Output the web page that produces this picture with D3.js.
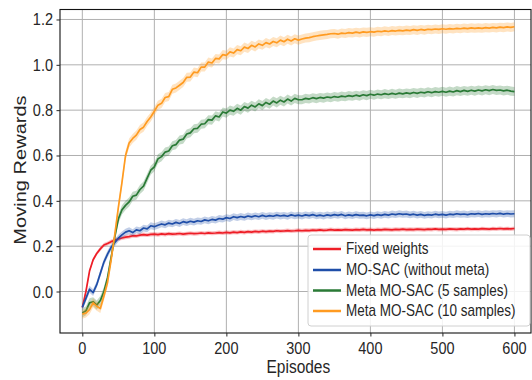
<!DOCTYPE html>
<html>
<head>
<meta charset="utf-8">
<script src="https://cdn.jsdelivr.net/npm/d3@7"></script>
<style>
  body { margin: 0; background: #fff; }
  text { font-family: 'Liberation Sans', Arial, sans-serif; fill: #262626; }
</style>
</head>
<body>
<div id="chart"></div>
<script>
// ----------- DATA ------------
const seriesNames = [
  'Fixed weights',
  'MO-SAC (without meta)',
  'Meta MO-SAC (5 samples)',
  'Meta MO-SAC (10 samples)',
];
const seriesColors = ['#ee1d26', '#1f4ea8', '#2a7a36', '#ff9b21'];
const bandSpread = [0.009, 0.015, 0.02, 0.02];

// one value every 5 episodes, 0..600
const episodes = d3.range(0, 601, 5);

const fixedWeights = [
  -0.07, 0.0, 0.09, 0.14, 0.168, 0.188, 0.205, 0.212, 0.22, 0.226, 0.232,
  0.236, 0.24, 0.242, 0.246, 0.245, 0.249, 0.251, 0.249, 0.252, 0.253,
  0.251, 0.254, 0.252, 0.255, 0.253, 0.254, 0.256, 0.253, 0.255, 0.257,
  0.255, 0.256, 0.258, 0.256, 0.259, 0.257, 0.258, 0.26, 0.258, 0.261,
  0.259, 0.262, 0.26, 0.263, 0.261, 0.264, 0.262, 0.265, 0.263, 0.266,
  0.264, 0.266, 0.265, 0.268, 0.266, 0.267, 0.269, 0.267, 0.268, 0.27,
  0.268, 0.27, 0.269, 0.271, 0.27, 0.272, 0.27, 0.271, 0.273, 0.271,
  0.272, 0.271, 0.273, 0.272, 0.271, 0.273, 0.272, 0.274, 0.272, 0.273,
  0.271, 0.273, 0.272, 0.274, 0.273, 0.272, 0.274, 0.273, 0.275, 0.273,
  0.274, 0.273, 0.275, 0.274, 0.273, 0.275, 0.274, 0.276, 0.274, 0.275,
  0.274, 0.276, 0.275, 0.274, 0.276, 0.275, 0.277, 0.275, 0.276, 0.275,
  0.277, 0.276, 0.275, 0.277, 0.276, 0.278, 0.276, 0.277, 0.276, 0.278,
];

const moSac = [
  -0.07, -0.03, 0.01, -0.005, 0.03, 0.08, 0.13, 0.165, 0.195, 0.215, 0.235,
  0.25, 0.262, 0.268, 0.26, 0.272, 0.268, 0.28, 0.276, 0.29, 0.286,
  0.292, 0.298, 0.294, 0.302, 0.298, 0.305, 0.3, 0.308, 0.304, 0.31,
  0.306, 0.312, 0.309, 0.316, 0.312, 0.318, 0.315, 0.322, 0.319, 0.326,
  0.322, 0.33, 0.326, 0.331, 0.327, 0.333, 0.329, 0.334, 0.33, 0.336,
  0.331, 0.335, 0.332, 0.337, 0.333, 0.336, 0.332, 0.338, 0.334, 0.337,
  0.333, 0.338, 0.335, 0.339, 0.334, 0.337, 0.333, 0.338, 0.335, 0.339,
  0.336, 0.34, 0.334, 0.338, 0.335, 0.339, 0.336, 0.337, 0.334, 0.338,
  0.335, 0.339, 0.336, 0.34, 0.337, 0.342, 0.339, 0.343, 0.34, 0.342,
  0.338, 0.341, 0.337, 0.34, 0.336, 0.339, 0.337, 0.341, 0.338, 0.34,
  0.337, 0.341, 0.339, 0.343, 0.34, 0.342, 0.339, 0.343, 0.341, 0.344,
  0.34, 0.343, 0.341, 0.344, 0.342, 0.345, 0.341, 0.344, 0.342, 0.343,
];

const metaFive = [
  -0.095, -0.085, -0.05, -0.045, -0.06, -0.04, 0.0, 0.06, 0.15, 0.24, 0.32,
  0.36, 0.38, 0.395, 0.42, 0.425, 0.45, 0.465, 0.5, 0.535, 0.55,
  0.585, 0.595, 0.615, 0.62, 0.643, 0.648, 0.668, 0.672, 0.695, 0.7,
  0.718, 0.72, 0.738, 0.74, 0.758, 0.756, 0.775, 0.77, 0.792, 0.787,
  0.8, 0.795, 0.808, 0.8, 0.816, 0.809, 0.822, 0.814, 0.828, 0.82,
  0.834, 0.826, 0.84, 0.832, 0.844, 0.836, 0.849, 0.84, 0.852, 0.846,
  0.846, 0.852, 0.849, 0.855, 0.851, 0.856, 0.853, 0.858, 0.855, 0.86,
  0.857, 0.862, 0.859, 0.864, 0.861, 0.866, 0.862, 0.868, 0.864, 0.87,
  0.866, 0.871, 0.868, 0.873, 0.869, 0.874, 0.87, 0.875, 0.872, 0.876,
  0.873, 0.878, 0.874, 0.879, 0.876, 0.881, 0.877, 0.882, 0.879, 0.883,
  0.879, 0.884, 0.88, 0.886, 0.882, 0.887, 0.883, 0.888, 0.884, 0.889,
  0.885, 0.89, 0.886, 0.891, 0.887, 0.889, 0.885, 0.888, 0.884, 0.882,
];

const metaTen = [
  -0.1, -0.095, -0.08, -0.05, -0.065, -0.075, -0.02, 0.04, 0.14, 0.25, 0.37,
  0.48, 0.6, 0.655, 0.675, 0.69, 0.715, 0.725, 0.75, 0.77, 0.795,
  0.822, 0.83, 0.856, 0.86, 0.892, 0.898, 0.91, 0.922, 0.945, 0.946,
  0.968, 0.965, 0.99, 0.99, 1.012, 1.008, 1.028, 1.026, 1.045, 1.042,
  1.057, 1.052, 1.067, 1.062, 1.078, 1.072, 1.086, 1.079, 1.092, 1.086,
  1.098, 1.092, 1.103, 1.097, 1.109, 1.102, 1.113, 1.105, 1.115, 1.109,
  1.114, 1.118, 1.12, 1.124, 1.127, 1.13, 1.132, 1.134, 1.137, 1.138,
  1.135, 1.14, 1.138, 1.142, 1.14, 1.144, 1.141, 1.145, 1.143, 1.146,
  1.144, 1.148, 1.146, 1.15, 1.147, 1.151, 1.149, 1.152, 1.15, 1.153,
  1.151, 1.155, 1.152, 1.156, 1.153, 1.157, 1.155, 1.158, 1.156, 1.159,
  1.157, 1.16, 1.158, 1.161, 1.159, 1.162, 1.16, 1.163, 1.161, 1.163,
  1.161, 1.164, 1.162, 1.165, 1.163, 1.166, 1.164, 1.167, 1.165, 1.168,
];

const xTicks = [0, 100, 200, 300, 400, 500, 600];
const yTicks = [0.0, 0.2, 0.4, 0.6, 0.8, 1.0, 1.2];

const allSeries = [fixedWeights, moSac, metaFive, metaTen].map(function (vals, i) {
  return {
    key: seriesNames[i],
    color: seriesColors[i],
    spread: bandSpread[i],
    value: vals.map(function (v, j) {
      return { episode: episodes[j], reward: v };
    }),
  };
});

// ----------- SVG ------------
const width = 532;
const height = 380;
const margin = { top: 9.5, right: 1, bottom: 47, left: 60 };
const stretch = 1.18; // text in the picture is a bit taller than wide

const svg = d3
  .select('#chart')
  .append('svg')
  .attr('width', width)
  .attr('height', height);

const x = d3
  .scaleLinear()
  .domain([-31, 623])
  .range([margin.left, width - margin.right]);
const y = d3
  .scaleLinear()
  .domain([-0.183, 1.244])
  .range([height - margin.bottom, margin.top]);

// ----------- GRID ------------
const grid = svg.append('g').attr('class', 'grid');
grid
  .selectAll('.gx')
  .data(xTicks)
  .enter()
  .append('line')
  .attr('x1', (d) => x(d))
  .attr('x2', (d) => x(d))
  .attr('y1', margin.top)
  .attr('y2', height - margin.bottom)
  .attr('stroke', '#b0b0b0')
  .attr('stroke-width', 1);
grid
  .selectAll('.gy')
  .data(yTicks)
  .enter()
  .append('line')
  .attr('x1', margin.left)
  .attr('x2', width - margin.right)
  .attr('y1', (d) => y(d))
  .attr('y2', (d) => y(d))
  .attr('stroke', '#b0b0b0')
  .attr('stroke-width', 1);

// ----------- BANDS + LINES ------------
const line = d3
  .line()
  .x(function (d) {
    return x(d.episode);
  })
  .y(function (d) {
    return y(d.reward);
  });

const plot = svg.append('g').attr('class', 'series');

allSeries.forEach(function (s) {
  const area = d3
    .area()
    .x(function (d) {
      return x(d.episode);
    })
    .y0(function (d) {
      return y(d.reward - s.spread);
    })
    .y1(function (d) {
      return y(d.reward + s.spread);
    });

  plot
    .append('path')
    .attr('d', area(s.value))
    .attr('fill', s.color)
    .attr('fill-opacity', 0.28)
    .attr('stroke', 'none');

  plot
    .append('path')
    .attr('d', line(s.value))
    .attr('fill', 'none')
    .attr('stroke', s.color)
    .attr('stroke-width', 1.7)
    .attr('stroke-linejoin', 'round');
});

// ----------- AXES ------------
svg
  .append('rect')
  .attr('x', margin.left)
  .attr('y', margin.top)
  .attr('width', width - margin.right - margin.left)
  .attr('height', height - margin.bottom - margin.top)
  .attr('fill', 'none')
  .attr('stroke', '#111')
  .attr('stroke-width', 1.1);

const xAxis = svg
  .append('g')
  .attr('transform', `translate(0, ${height - margin.bottom})`)
  .call(d3.axisBottom(x).tickValues(xTicks).tickSize(3.5).tickFormat(''));
xAxis.select('.domain').remove();
xAxis.selectAll('line').attr('stroke', '#262626');

const yAxis = svg
  .append('g')
  .attr('transform', `translate(${margin.left}, 0)`)
  .call(d3.axisLeft(y).tickValues(yTicks).tickSize(3.5).tickFormat(''));
yAxis.select('.domain').remove();
yAxis.selectAll('line').attr('stroke', '#262626');

// tick labels (drawn by hand so they can be stretched like the picture)
svg
  .selectAll('.xlab')
  .data(xTicks)
  .enter()
  .append('text')
  .attr('transform', (d) => `translate(${x(d)}, 354) scale(1, ${stretch})`)
  .attr('text-anchor', 'middle')
  .style('font-size', '14.5px')
  .text((d) => d);

svg
  .selectAll('.ylab')
  .data(yTicks)
  .enter()
  .append('text')
  .attr('transform', (d) => `translate(53, ${y(d) + 6}) scale(1, ${stretch})`)
  .attr('text-anchor', 'end')
  .style('font-size', '14.5px')
  .text((d) => d3.format('.1f')(d));

svg
  .append('text')
  .attr('transform', `translate(${x(300)}, 373) scale(1, ${stretch})`)
  .attr('text-anchor', 'middle')
  .style('font-size', '15.5px')
  .text('Episodes');

svg
  .append('text')
  .attr('transform', `translate(26, 170) scale(1, ${stretch}) rotate(-90)`)
  .attr('text-anchor', 'middle')
  .style('font-size', '17px')
  .text('Moving Rewards');

// ----------- LEGEND ------------
const legend = svg.append('g').attr('class', 'legend');
legend
  .append('rect')
  .attr('x', 308)
  .attr('y', 235)
  .attr('width', 222)
  .attr('height', 91)
  .attr('rx', 3)
  .attr('fill', '#fff')
  .attr('fill-opacity', 0.85)
  .attr('stroke', '#d0d0d0')
  .attr('stroke-width', 1);

const rowY = [249, 270, 290.5, 311];
const item = legend
  .selectAll('.item')
  .data(allSeries)
  .enter()
  .append('g')
  .attr('transform', (d, i) => `translate(0, ${rowY[i]})`);

item
  .append('line')
  .attr('x1', 313)
  .attr('x2', 341)
  .attr('stroke', (d) => d.color)
  .attr('stroke-width', 2.5);

item
  .append('text')
  .attr('transform', `translate(346, 5) scale(1, ${stretch})`)
  .style('font-size', '13.5px')
  .text((d) => d.key);
</script>
</body>
</html>
